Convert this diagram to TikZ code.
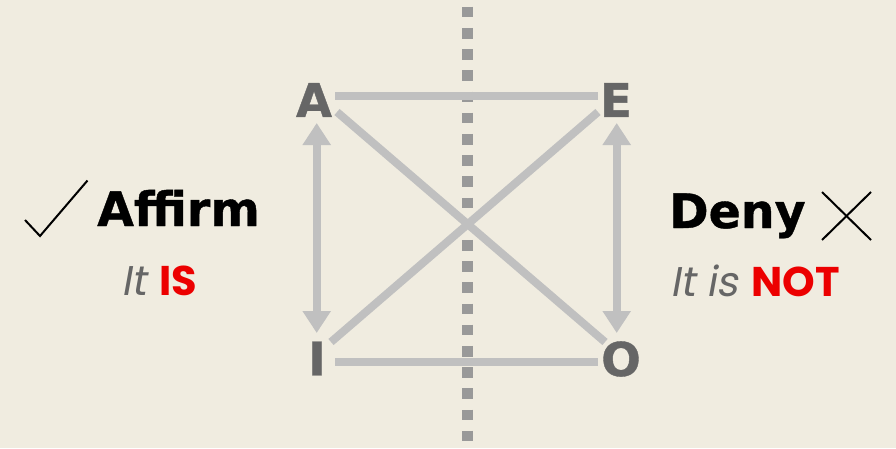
\documentclass[tikz,border=0pt]{standalone}
\usepackage{fontspec}
\setmainfont{DejaVu Sans}
\newfontfamily\heavy{DejaVu Sans Bold}[FakeBold=0.8]
\newfontfamily\popr{Poppins}[FakeSlant=0.18]
\newfontfamily\popb{Poppins}
\usetikzlibrary{arrows.meta,calc}
\definecolor{bg}{RGB}{240,236,224}
\definecolor{linegray}{RGB}{192,192,192}
\definecolor{dashgray}{RGB}{153,153,153}
\definecolor{lettergray}{RGB}{102,102,102}
\definecolor{redtxt}{RGB}{236,0,0}
\tikzset{
  letter/.style={font=\heavy\fontsize{46.6}{50}\selectfont, text=lettergray, inner sep=0pt},
  big/.style={font=\heavy\fontsize{47.5}{50}\selectfont, text=black, inner sep=0pt, anchor=base west},
  small/.style={font=\fontsize{41.5}{45}\selectfont, inner sep=0pt, anchor=base west},
  conn/.style={draw=linegray, line width=8pt},
  dbl/.style={conn, {Triangle[width=27pt,length=22pt]}-{Triangle[width=27pt,length=22pt]}},
  tickmark/.style={draw=black, line width=2pt},
  divider/.style={draw=dashgray, line width=11pt, dash pattern=on 10.6pt off 10.6pt}
}
\begin{document}
\begin{tikzpicture}[x=1pt,y=-1pt]
\fill[bg] (0,0) rectangle (896,448);
\useasboundingbox (0,0) rectangle (896,448);
% divider
\coordinate (dtop) at (467.7,6.7);
\coordinate (dbot) at (467.7,442);
\draw[divider] (dtop) -- (dbot);
% letters
\node[letter] (A) at (314,100) {A};
\node[letter] (E) at (616,100) {E};
\node[letter] (I) at (317,358.5) {I};
\node[letter] (O) at (621,359) {O};
% connectors
\draw[conn] ($(A)+(21,-4.3)$) -- ($(E)+(-18,-4.3)$);
\draw[conn] ($(I)+(18,3.2)$) -- ($(O)+(-23,2.7)$);
\draw[conn] ($(A)+(23,12)$) -- ($(O)+(-16,-17)$);
\draw[conn] ($(E)+(-18,12)$) -- ($(I)+(14,-16.5)$);
\draw[dbl] ($(A)+(2.7,23)$) -- ($(I)+(-0.3,-25.5)$);
\draw[dbl] ($(E)+(0.7,23)$) -- ($(O)+(-4.3,-26)$);
% left side
\node[big] (affirm) at (97,226) {Affirm};
\coordinate (c1) at (25,220);
\coordinate (c2) at (40,236);
\coordinate (c3) at (87.5,180.5);
\draw[tickmark, line join=miter] (c1) -- (c2) -- (c3);
\node[small] (itis) at (121,295) {{\popr\color{lettergray}It} {\popb\bfseries\color{redtxt}IS}};
% right side
\node[big] (deny) at (669,228) {Deny};
\coordinate (x1) at (822,192);
\coordinate (x2) at (871,240);
\coordinate (x3) at (871,192);
\coordinate (x4) at (822,240);
\draw[tickmark] (x1) -- (x2);
\draw[tickmark] (x3) -- (x4);
\node[small] (itisnot) at (670,296) {{\popr\color{lettergray}It is} {\popb\bfseries\color{redtxt}NOT}};
\end{tikzpicture}
\end{document}
